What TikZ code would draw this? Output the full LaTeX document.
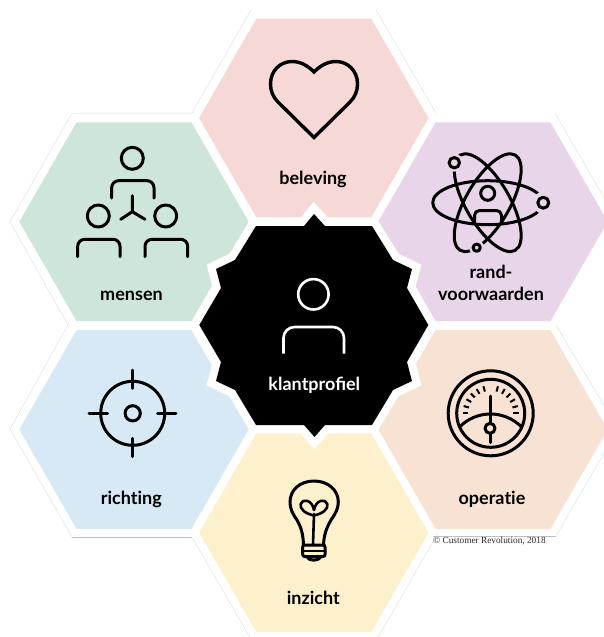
\documentclass[tikz,border=0pt]{standalone}
\usepackage{fontspec}
\setmainfont{Lato}
\newfontfamily\creditfont{Liberation Serif}
\definecolor{cBeleving}{HTML}{F6D8D6}
\definecolor{cMensen}{HTML}{CDE6D9}
\definecolor{cRand}{HTML}{E8D5E9}
\definecolor{cRichting}{HTML}{D8E9F6}
\definecolor{cOperatie}{HTML}{F8E2D3}
\definecolor{cInzicht}{HTML}{FDF0CC}
\newcommand{\hexpath}{(-114.7,0)--(-57.5,-99.3)--(57.5,-99.3)--(114.7,0)--(57.5,99.3)--(-57.5,99.3)--cycle}
\newcommand{\starpath}{(199.3,325)--(221,288)--(216,269)--(235,260)--(256,226)--(304,226)--(314,214)--(325,226)--(372,226)--(393,260)--(412,269)--(407,288)--(428.3,325)--(407,362)--(412,381)--(393,390)--(372,425)--(325,425)--(314.5,437)--(304,425)--(256,425)--(235,390)--(216,381)--(221,362)--cycle}
\tikzset{
  hexfill/.style={draw=none},
  icon/.style={draw=black,line width=3pt,line cap=round,line join=round},
  iconwhite/.style={draw=white,line width=2.6pt,line cap=butt,line join=round},
  lab/.style={font=\bfseries\fontsize{18}{21}\selectfont,text=black,inner sep=0pt,anchor=base},
  outerline/.style={draw=black!12,line width=0.5pt}
}
\begin{document}
\begin{tikzpicture}[x=1pt,y=-1pt]
\useasboundingbox (0,0) rectangle (604,637);
\clip (0,0) rectangle (604,637);
% faint outer contour
\draw[outerline] (192,113)--(251,10);
\draw[outerline] (376,10)--(436,113);
\draw[outerline] (192,113)--(72,113)--(10,222)--(68,325)--(10,429)--(72,537);
\draw[draw=black!25,line width=0.5pt] (72,537)--(192,537);
\draw[outerline] (192,537)--(252,641);
\draw[outerline] (555,113)--(618,222);
\draw[outerline] (556,325)--(618,429)--(556,536);
\draw[draw=black!25,line width=0.5pt] (556,536)--(433,536);
\draw[outerline] (438,533)--(376,641);
% hexagons
\fill[hexfill,cBeleving,shift={(313.8,118)}] \hexpath;
\fill[hexfill,cMensen,shift={(134,221.7)}] \hexpath;
\fill[hexfill,cRand,shift={(493,221.7)}] \hexpath;
\fill[hexfill,cRichting,shift={(134,429.5)}] \hexpath;
\fill[hexfill,cOperatie,shift={(493,429.5)}] \hexpath;
\fill[hexfill,cInzicht,shift={(313.8,532.7)}] \hexpath;
% centre star
\draw[draw=white,line width=16pt,line join=miter,miter limit=10,fill=black] \starpath;
\fill[black] \starpath;
% person (centre)
\draw[iconwhite] (313.4,294.3) circle[radius=15.2];
\draw[iconwhite,rounded corners=11pt] (283.5,353.5)--(283.5,327)--(344,327)--(344,353.5);
% heart
\draw[icon,line width=3.4pt,line cap=butt,line join=miter] (314,137.5)--(278,102)
  .. controls (273,97) and (270.5,91) .. (270.5,84)
  .. controls (270.5,70) and (281,61.5) .. (292,61.5)
  .. controls (301,61.5) and (308,66) .. (314,72)
  .. controls (320,66) and (327,61.5) .. (336,61.5)
  .. controls (347,61.5) and (357.5,70) .. (357.5,84)
  .. controls (357.5,91) and (355,97) .. (350,102)--cycle;
% people
\draw[icon] (132.3,158.3) circle[radius=11];
\draw[icon,rounded corners=7pt] (111.7,198)--(111.7,180.7)--(154,180.7)--(154,198);
\draw[icon] (132.3,195.7)--(132.3,211.7)--(120.7,219.3);
\draw[icon] (132.3,211.7)--(145,219.3);
\draw[icon] (98.3,216) circle[radius=11];
\draw[icon] (165.7,216) circle[radius=11];
\draw[icon,rounded corners=7pt] (77.7,256.7)--(77.7,239.3)--(120,239.3)--(120,256.7);
\draw[icon,rounded corners=7pt] (145,256.7)--(145,239.3)--(187.7,239.3)--(187.7,256.7);
% atom
\draw[icon] (487.7,193.3) circle[radius=7];
\draw[icon,rounded corners=5pt] (474.5,222)--(474.5,210.5)--(501.5,210.5)--(501.5,222);
\draw[icon] (487.7,202.7) ellipse[x radius=55,y radius=22];
\draw[icon,rotate around={60:(487.7,202.7)}] (487.7,202.7) ellipse[x radius=55,y radius=22];
\draw[icon,rotate around={-60:(487.7,202.7)}] (487.7,202.7) ellipse[x radius=55,y radius=22];
\fill[cRand] (454.3,162.7) circle[radius=9];
\fill[cRand] (543.3,202.7) circle[radius=11];
\fill[cRand] (476.7,247.7) circle[radius=7.5];
\draw[icon] (454.3,162.7) circle[radius=5.2];
\draw[icon] (543.3,202.7) circle[radius=5.5];
\draw[icon] (476.7,247.7) circle[radius=3.6];
% target
\draw[icon] (132.7,413.3) circle[radius=32];
\draw[icon] (132.7,413.3) circle[radius=7.6];
\draw[icon] (89,413.3)--(107.7,413.3);
\draw[icon] (157.7,413.3)--(176,413.3);
\draw[icon] (132.7,370)--(132.7,388.3);
\draw[icon] (132.7,438.3)--(132.7,456.7);
% gauge
\draw[icon] (490.7,413.3) circle[radius=42.5];
\draw[icon] (490.7,413.3) circle[radius=34];
\foreach \a in {0,15,30,45,60,75,105,120,135,150,165,180}
  \draw[draw=black,line width=2pt] (490.7,413.3)++({\a}:22.5 and -22.5) -- ++({\a}:5.5 and -5.5);
\draw[icon,line cap=butt] (459.5,427) .. controls (468,418.5) and (479,414) .. (490.5,414) .. controls (502,414) and (513,418.5) .. (521.7,427);
\draw[icon] (490,396)--(490,442.7);
\fill[cOperatie] (490,428.3) circle[radius=5];
\draw[icon] (490,428.3) circle[radius=5];
% bulb
\draw[icon] (303.5,545) .. controls (303,535) and (302,529) .. (297,520)
  .. controls (292,513) and (290,508) .. (290,502)
  .. controls (290,490) and (300,481) .. (314,481)
  .. controls (328,481) and (338.3,490) .. (338.3,502)
  .. controls (338.3,508) and (336,513) .. (331,520)
  .. controls (326,529) and (324,535) .. (323.5,545);
\draw[icon,rounded corners=2pt] (302.7,545)--(325,545)--(325,556.5)--(302.7,556.5)--cycle;
\draw[black,line width=2.2pt] (303,551)--(325,551);
\draw[icon] (307.5,557.5) .. controls (309,561) and (318,561) .. (320.5,557.5);
\draw[icon,line width=2.6pt] (313,545)--(314,514);
\draw[icon,line width=2.6pt] (314,515.5) .. controls (305,513.5) and (299.5,509) .. (300.7,504)
  .. controls (302,498.5) and (312,499) .. (314,510)
  .. controls (316,499) and (326,498.5) .. (327.3,504)
  .. controls (328.5,509) and (323,513.5) .. (314,515.5);
% labels
\node[lab] (beleving) at (313,184) {beleving};
\node[lab] (mensen) at (131.5,300.7) {mensen};
\node[lab] (rand) at (491,278) {rand-};
\node[lab] (voorwaarden) at (491,300.4) {voorwaarden};
\node[lab] (richting) at (131.3,504) {richt\kern0pt ing};
\node[lab] (operatie) at (492,504) {opera\kern0pt t\kern0pt ie};
\node[lab] (inzicht) at (313.3,604.7) {inzicht};
\node[lab,text=white] (klantprofiel) at (314.3,390.7) {klantprofiel};
\node[anchor=west,inner sep=0pt,font=\creditfont\fontsize{9.3}{10}\selectfont,text=black!85] (credit) at (433,541.2) {© Customer Revolution, 2018};
\end{tikzpicture}
\end{document}
